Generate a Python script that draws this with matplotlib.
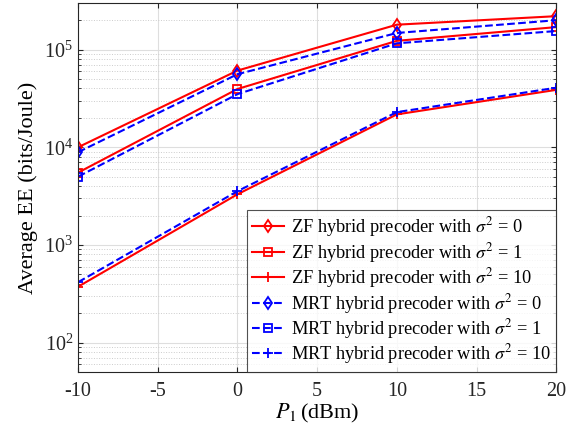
import matplotlib
matplotlib.use("Agg")
import matplotlib.pyplot as plt

p1 = [-10, 0, 10, 20]
zf_s0 = [1.0e4, 6.1e4, 1.8e5, 2.2e5]
zf_s1 = [5.5e3, 3.95e4, 1.23e5, 1.7e5]
zf_s10 = [373, 3.3e3, 2.17e4, 3.87e4]
mrt_s0 = [8.9e3, 5.6e4, 1.48e5, 2.0e5]
mrt_s1 = [5.0e3, 3.5e4, 1.16e5, 1.55e5]
mrt_s10 = [415, 3.55e3, 2.29e4, 4.07e4]

plt.rcParams['font.family'] = ['Liberation Serif', 'DejaVu Serif']
plt.rcParams['mathtext.fontset'] = 'stix'
plt.rcParams['axes.unicode_minus'] = False

fig = plt.figure(figsize=(5.74, 4.32), dpi=100)
ax = fig.add_axes([0.136, 0.139, 0.833, 0.854])

red = '#ff0000'
blue = '#0000ff'
ax.semilogy(p1, zf_s0, '-', color=red, marker='d', mfc='none', ms=6.5, mew=1.3, lw=1.5,
            label=r'ZF hybrid precoder with $\sigma^2$ = 0')
ax.semilogy(p1, zf_s1, '-', color=red, marker='s', mfc='none', ms=5.5, mew=1.3, lw=1.5,
            label=r'ZF hybrid precoder with $\sigma^2$ = 1')
ax.semilogy(p1, zf_s10, '-', color=red, marker='+', ms=7.5, mew=1.3, lw=1.5,
            label=r'ZF hybrid precoder with $\sigma^2$ = 10')
ax.semilogy(p1, mrt_s0, '--', color=blue, marker='d', mfc='none', ms=6.5, mew=1.3, lw=1.5,
            label=r'MRT hybrid precoder with $\sigma^2$ = 0')
ax.semilogy(p1, mrt_s1, '--', color=blue, marker='s', mfc='none', ms=5.5, mew=1.3, lw=1.5,
            label=r'MRT hybrid precoder with $\sigma^2$ = 1')
ax.semilogy(p1, mrt_s10, '--', color=blue, marker='+', ms=7.5, mew=1.3, lw=1.5,
            label=r'MRT hybrid precoder with $\sigma^2$ = 10')

ax.set_xlim(-10, 20)
ax.set_ylim(50, 3.0e5)
ax.set_xticks([-10, -5, 0, 5, 10, 15, 20])
ax.grid(True, which='major', color='#dedede', lw=0.8)
ax.grid(True, which='minor', axis='y', color='#cccccc', ls=':', lw=0.7)
ax.tick_params(which='both', direction='in', top=True, right=True, labelsize=14.5, colors='#262626')
ax.tick_params(axis='x', pad=7)
for s in ax.spines.values():
    s.set_color('#262626')

ax.set_xlabel(r'$P_1\,$(dBm)', fontsize=16, labelpad=1)
ax.set_ylabel('Average EE (bits/Joule)', fontsize=16, labelpad=4)

leg = ax.legend(loc='lower right', fontsize=13.2, frameon=True, fancybox=False,
                edgecolor='#262626', handlelength=1.7, handletextpad=0.4,
                borderaxespad=0.0, labelspacing=0.08, borderpad=0.3)
leg.get_frame().set_linewidth(0.8)

fig.savefig('out.png', dpi=100)
